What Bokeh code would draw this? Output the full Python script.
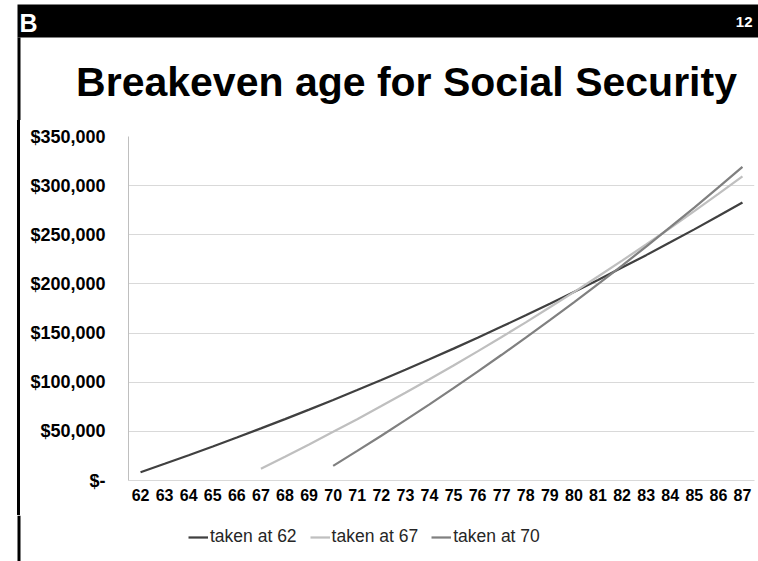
from bokeh.plotting import figure
from bokeh.layouts import column, row
from bokeh.models import (FactorRange, Range1d, FixedTicker, Label, Legend, LegendItem,
                          Spacer, Div)
from bokeh.embed import file_html
from bokeh.resources import INLINE

# ---------------- data ----------------
categories = ["62", "63", "64", "65", "66", "67", "68", "69", "70", "71", "72", "73", "74",
              "75", "76", "77", "78", "79", "80", "81", "82", "83", "84", "85", "86", "87"]

taken_62 = [8400, 17000, 25700, 34600, 43700, 53000, 62400, 72100, 81900, 92000,
            102200, 112700, 123300, 134200, 145300, 156600, 168100, 179900, 191900,
            204100, 216600, 229300, 242300, 255500, 269100, 282800]
taken_67 = [12000, 24200, 36700, 49500, 62400, 75700, 89200, 103000, 117100, 131400,
            146000, 160900, 176200, 191700, 207500, 223700, 240100, 256900, 274100,
            291600, 309400]
taken_70 = [14900, 30100, 45600, 61400, 77500, 94000, 110800, 127900, 145300, 163200,
            181300, 199800, 218700, 238000, 257700, 277700, 298200, 319000]

series_names = ["taken at 62", "taken at 67", "taken at 70"]
series_colors = ["#404040", "#bfbfbf", "#808080"]
y_ticks = [0, 50000, 100000, 150000, 200000, 250000, 300000, 350000]
y_tick_labels = ["$-", "$50,000", "$100,000", "$150,000", "$200,000", "$250,000",
                 "$300,000", "$350,000"]
title_text = "Breakeven age for Social Security"
slide_number = "12"
logo_text = "B"

# ---------------- layout constants ----------------
W, H = 758, 561
HEAD_H = 120          # header figure: black bar + title
FOOT_H = 46           # footer figure: legend
RULE_L, RULE_W = 17, 3   # left vertical rule
FL, FR, FT, FB = 128, 754, 136, 480   # chart frame edges in page pixels
FONT = "Liberation Sans"
LW = 2.25


def blank_fig(w, h, xr, yr, fill="white"):
    f = figure(width=w, height=h, x_range=xr, y_range=yr,
               output_backend="svg", toolbar_location=None,
               x_axis_type=None, y_axis_type=None,
               min_border=0, min_border_left=0, min_border_right=0,
               min_border_top=0, min_border_bottom=0)
    f.outline_line_color = None
    f.grid.visible = False
    f.background_fill_color = fill
    f.border_fill_color = fill
    return f


# ---------------- header ----------------
header = blank_fig(W, HEAD_H, Range1d(0, W), Range1d(HEAD_H, 0))
header.quad(left=RULE_L, right=W, top=4, bottom=37, fill_color="black", line_color=None)
header.quad(left=RULE_L, right=RULE_L + RULE_W, top=37, bottom=HEAD_H,
            fill_color="black", line_color=None)
header.add_layout(Label(x=19, y=22, text=logo_text, text_color="white",
                        text_font=FONT, text_font_size="25px",
                        text_font_style="bold", text_align="left",
                        text_baseline="alphabetic"))
header.add_layout(Label(x=752, y=21, text=slide_number, text_color="white",
                        text_font=FONT, text_font_size="15px", text_font_style="bold",
                        text_align="right", text_baseline="alphabetic"))
header.add_layout(Label(x=406, y=81, text=title_text, text_color="black",
                        text_font=FONT, text_font_size="41px", text_font_style="bold",
                        text_align="center", text_baseline="alphabetic"))

# ---------------- body: left rule + chart ----------------
BODY_H = H - HEAD_H - FOOT_H
gap = Spacer(width=RULE_L, height=BODY_H, margin=0)
rule = Div(text="", width=RULE_W, height=BODY_H, margin=0,
           styles={"background-color": "black"})

CHART_W = W - RULE_L - RULE_W
p = figure(width=CHART_W, height=BODY_H,
           x_range=FactorRange(*categories),
           y_range=Range1d(y_ticks[0], y_ticks[-1]),
           output_backend="svg", toolbar_location=None,
           min_border_left=FL - RULE_L - RULE_W, min_border_right=W - FR,
           min_border_top=FT - HEAD_H, min_border_bottom=H - FOOT_H - FB)
p.background_fill_color = "white"
p.border_fill_color = "white"
p.outline_line_color = None


def tail(vals):
    return categories[len(categories) - len(vals):]


p.line(x=tail(taken_62), y=taken_62, line_color=series_colors[0], line_width=LW)
p.line(x=tail(taken_67), y=taken_67, line_color=series_colors[1], line_width=LW)
p.line(x=tail(taken_70), y=taken_70, line_color=series_colors[2], line_width=LW)

p.xgrid.visible = False
p.ygrid.grid_line_color = "#d9d9d9"
p.ygrid.grid_line_width = 1
p.ygrid.ticker = FixedTicker(ticks=y_ticks)

xa = p.xaxis[0]
xa.major_tick_line_color = None
xa.minor_tick_line_color = None
xa.major_tick_out = 0
xa.major_tick_in = 0
xa.axis_line_color = "#d9d9d9"
xa.major_label_standoff = 8
xa.major_label_text_font = FONT
xa.major_label_text_font_size = "16px"
xa.major_label_text_font_style = "bold"
xa.major_label_text_color = "black"

ya = p.yaxis[0]
ya.ticker = FixedTicker(ticks=y_ticks)
ya.major_label_overrides = {t: l for t, l in zip(y_ticks, y_tick_labels)}
ya.major_tick_line_color = None
ya.minor_tick_line_color = None
ya.major_tick_out = 0
ya.major_tick_in = 0
ya.axis_line_color = "#bfbfbf"
ya.major_label_standoff = 23
ya.major_label_text_font = FONT
ya.major_label_text_font_size = "18px"
ya.major_label_text_font_style = "bold"
ya.major_label_text_color = "black"

# ---------------- footer: legend ----------------
footer = blank_fig(W, FOOT_H, Range1d(0, W), Range1d(FOOT_H, 0))
footer.quad(left=RULE_L, right=RULE_L + RULE_W, top=0, bottom=FOOT_H,
            fill_color="black", line_color=None)
# legend keys: styled like the chart lines, their points lie outside the footer view
keys = [footer.line(x=[-50, -40], y=[-50, -50], line_color=c, line_width=LW)
        for c in series_colors]
legend = Legend(items=[LegendItem(label=n, renderers=[r]) for n, r in zip(series_names, keys)],
                orientation="horizontal", location=(188, 14),
                border_line_color=None, background_fill_alpha=0,
                padding=0, margin=0, spacing=13,
                glyph_width=20, glyph_height=18, label_standoff=2,
                label_text_font=FONT, label_text_font_size="17.5px",
                label_text_color="#262626")
footer.add_layout(legend, "center")

layout = column(header, row(gap, rule, p, spacing=0), footer, spacing=0)

open("out.html", "w").write(file_html(layout, INLINE))
